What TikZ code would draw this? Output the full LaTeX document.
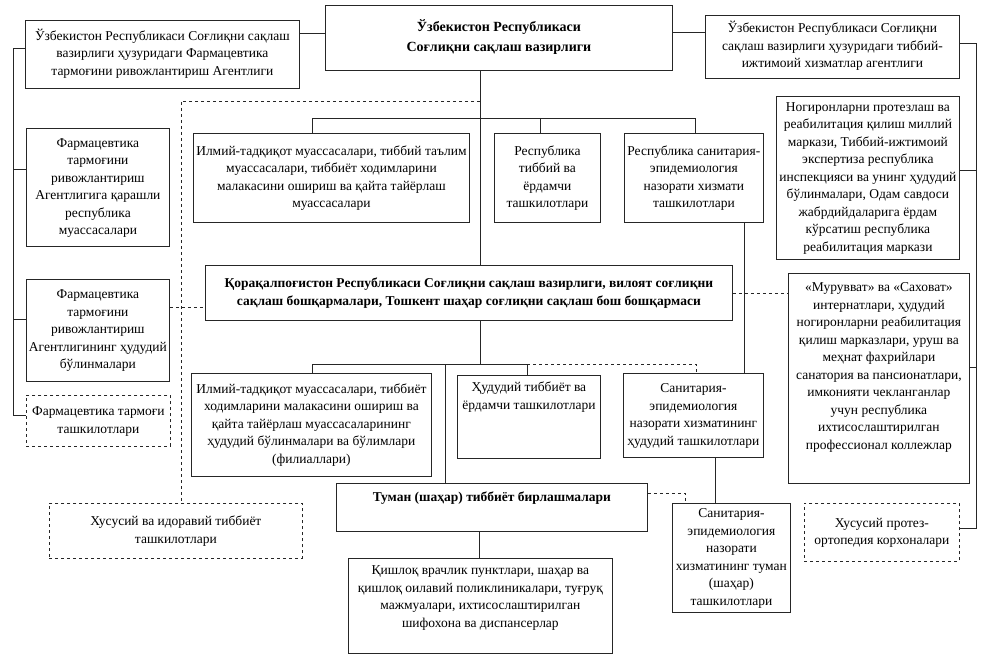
\documentclass[tikz,border=0pt]{standalone}
\usepackage{fontspec}
\setmainfont{Liberation Serif}
\newcommand{\btxt}[5]{\parbox[c][#2pt][#3]{#1pt}{\vspace*{#4pt}\makebox[#1pt]{\begin{tabular}{@{}c@{}}#5\end{tabular}}}}
\begin{document}
\begin{tikzpicture}[x=1pt,y=-1pt,
  box/.style={draw=black!85,line width=0.8pt,inner sep=0pt,anchor=north west,fill=white},
  dbox/.style={box,dashed},
  conn/.style={draw=black!85,line width=0.8pt},
  dconn/.style={conn,dashed},
  font=\fontsize{13.5}{17.5}\selectfont]
\useasboundingbox (0,0) rectangle (984,660);
% boxes
\node[box,font=\fontsize{14}{20}\selectfont\bfseries] (main) at (325,5) {\btxt{347}{65}{c}{0}{Ўзбекистон Республикаси\\Соғлиқни сақлаш вазирлиги}};
\node[box] (b1) at (25,20) {\btxt{274}{68}{c}{0}{Ўзбекистон Республикаси Соғлиқни сақлаш\\вазирлиги ҳузуридаги Фармацевтика\\тармоғини ривожлантириш Агентлиги}};
\node[box] (b3) at (705,15) {\btxt{254}{63}{c}{0}{Ўзбекистон Республикаси Соғлиқни\\сақлаш вазирлиги ҳузуридаги тиббий-\\ижтимоий хизматлар агентлиги}};
\node[box] (L1) at (26,128) {\btxt{143}{118}{c}{0}{Фармацевтика\\тармоғини\\ривожлантириш\\Агентлигига қарашли\\республика\\муассасалари}};
\node[box] (L2) at (26,279) {\btxt{143}{102}{c}{0}{Фармацевтика\\тармоғини\\ривожлантириш\\Агентлигининг ҳудудий\\бўлинмалари}};
\node[dbox] (L3) at (26,395) {\btxt{144}{51}{c}{0}{Фармацевтика тармоғи\\ташкилотлари}};
\node[box] (R1a) at (193,133) {\btxt{276}{89}{c}{0}{Илмий-тадқиқот муассасалари, тиббий таълим\\муассасалари, тиббиёт ходимларини\\малакасини ошириш ва қайта тайёрлаш\\муассасалари}};
\node[box] (R1b) at (494,133) {\btxt{106}{89}{c}{0}{Республика\\тиббий ва\\ёрдамчи\\ташкилотлари}};
\node[box] (R1c) at (624,133) {\btxt{139}{89}{c}{0}{Республика санитария-\\эпидемиология\\назорати хизмати\\ташкилотлари}};
\node[box,font=\fontsize{13.5}{17.5}\selectfont\bfseries] (K) at (205,265) {\btxt{527}{55}{c}{0}{Қорақалпоғистон Республикаси Соғлиқни сақлаш вазирлиги, вилоят соғлиқни\\сақлаш бошқармалари, Тошкент шаҳар соғлиқни сақлаш бош бошқармаси}};
\node[box] (R3a) at (191,373) {\btxt{240}{103}{c}{0}{Илмий-тадқиқот муассасалари, тиббиёт\\ходимларини малакасини ошириш ва\\қайта тайёрлаш муассасаларининг\\ҳудудий бўлинмалари ва бўлимлари\\(филиаллари)}};
\node[box] (R3b) at (457,375) {\btxt{143}{83}{t}{4}{Ҳудудий тиббиёт ва\\ёрдамчи ташкилотлари}};
\node[box] (R3c) at (623,373) {\btxt{140}{84}{c}{0}{Санитария-\\эпидемиология\\назорати хизматининг\\ҳудудий ташкилотлари}};
\node[box,font=\fontsize{13.5}{17.5}\selectfont\bfseries] (T) at (336,483) {\btxt{311}{48}{t}{6}{Туман (шаҳар) тиббиёт бирлашмалари}};
\node[box] (Q) at (348,558) {\btxt{264}{95}{t}{4}{Қишлоқ врачлик пунктлари, шаҳар ва\\қишлоқ оилавий поликлиникалари, туғруқ\\мажмуалари, ихтисослаштирилган\\шифохона ва диспансерлар}};
\node[box] (R4c) at (672,503) {\btxt{118}{109}{c}{0}{Санитария-\\эпидемиология\\назорати\\хизматининг туман\\(шаҳар)\\ташкилотлари}};
\node[dbox] (H) at (49,503) {\btxt{253}{55}{c}{0}{Хусусий ва идоравий тиббиёт\\ташкилотлари}};
\node[box] (N) at (776,96) {\btxt{183}{163}{c}{0}{Ногиронларни протезлаш ва\\реабилитация қилиш миллий\\маркази, Тиббий-ижтимоий\\экспертиза республика\\инспекцияси ва унинг ҳудудий\\бўлинмалари, Одам савдоси\\жабрдийдаларига ёрдам\\кўрсатиш республика\\реабилитация маркази}};
\node[box] (M) at (788,273) {\btxt{181}{210}{t}{6}{«Мурувват» ва «Саховат»\\интернатлари, ҳудудий\\ногиронларни реабилитация\\қилиш марказлари, уруш ва\\меҳнат фахрийлари\\санатория ва пансионатлари,\\имконияти чекланганлар\\учун республика\\ихтисослаштирилган\\профессионал коллежлар}};
\node[dbox] (P) at (804,503) {\btxt{155}{58}{c}{0}{Хусусий протез-\\ортопедия корхоналари}};
% helper coordinates
\coordinate (vx) at (480,0);
\coordinate (d1) at (312,118);
\coordinate (d2) at (540,118);
\coordinate (d3) at (695,118);
\coordinate (s1) at (744,0);
\coordinate (e0) at (445,364);
\coordinate (e1) at (312,364);
\coordinate (e2) at (527,364);
\coordinate (e3) at (696,364);
\coordinate (f1) at (715,0);
\coordinate (g1) at (685,493);
\coordinate (q1) at (479,0);
\coordinate (dt) at (181,101);
\coordinate (ls) at (13,0);
\coordinate (rs) at (976,0);
\coordinate (yA) at (0,33);
\coordinate (yB) at (0,32);
\coordinate (yb1) at (0,48);
\coordinate (yL1) at (0,169);
\coordinate (yL2) at (0,319);
\coordinate (yL3) at (0,415);
\coordinate (ykl) at (0,307);
\coordinate (ykr) at (0,293);
\coordinate (yb3) at (0,43);
\coordinate (yN) at (0,170);
\coordinate (yM) at (0,367);
\coordinate (yP) at (0,528);
% connectors
\draw[conn] (b1.east |- yA) -- (main.west |- yA);
\draw[conn] (main.east |- yB) -- (b3.west |- yB);
\draw[conn] (main.south -| vx) -- (K.north -| vx);
\draw[conn] (K.south -| vx) -- (vx |- e1);
\draw[conn] (R1a.north -| d1) -- (d1) -- (d3) -- (R1c.north -| d3);
\draw[conn] (d2) -- (R1b.north -| d2);
\draw[conn] (R1c.south -| s1) -- (R3c.north -| s1);
\draw[conn] (R3a.north -| e1) -- (e1) -- (e2) -- (R3b.north -| e2);
\draw[dconn] (e2) -- (e3) -- (R3c.north -| e3);
\draw[conn] (e0) -- (T.north -| e0);
\draw[conn] (R3c.south -| f1) -- (R4c.north -| f1);
\draw[dconn] (T.east |- g1) -- (g1) -- (R4c.north -| g1);
\draw[conn] (T.south -| q1) -- (Q.north -| q1);
\draw[dconn] (vx |- dt) -- (dt) -- (H.north -| dt);
\draw[dconn] (L2.east |- ykl) -- (K.west |- ykl);
\draw[dconn] (K.east |- ykr) -- (M.west |- ykr);
\draw[conn] (b1.west |- yb1) -- (ls |- yb1) -- (ls |- yL3) -- (L3.west |- yL3);
\draw[conn] (ls |- yL1) -- (L1.west |- yL1);
\draw[conn] (ls |- yL2) -- (L2.west |- yL2);
\draw[conn] (b3.east |- yb3) -- (rs |- yb3) -- (rs |- yP) -- (P.east |- yP);
\draw[conn] (N.east |- yN) -- (rs |- yN);
\draw[conn] (M.east |- yM) -- (rs |- yM);
\end{tikzpicture}
\end{document}
